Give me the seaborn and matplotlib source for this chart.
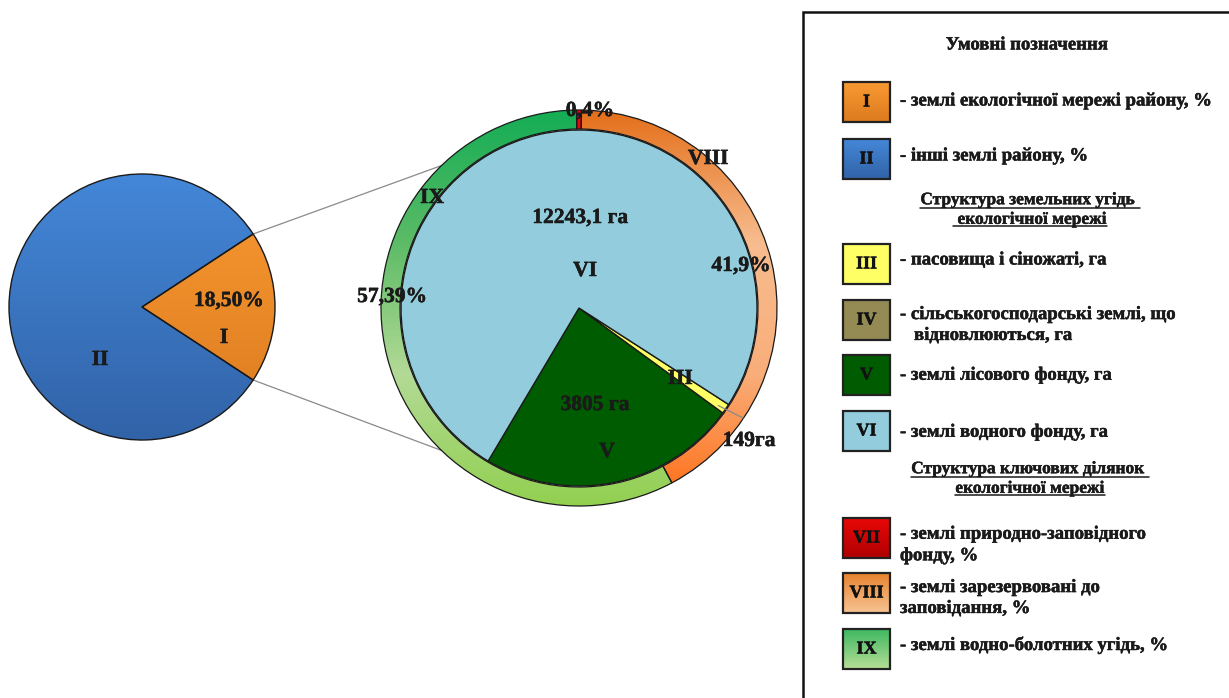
import numpy as np
import matplotlib
matplotlib.use("Agg")
import matplotlib.pyplot as plt
import matplotlib.patheffects as pe
import seaborn as sns
from matplotlib.patches import Rectangle
from matplotlib.colors import LinearSegmentedColormap

# ---------------- data ----------------
district_labels = ["I", "II"]
district_share = [18.50, 81.50]          # %
land_labels = ["V", "III", "VI"]
land_area = [3805, 149, 12243.1]          # ha
key_labels = ["VII", "VIII", "IX"]
key_share = [0.4, 41.9, 57.39]            # %

legend_items = [
    ("I", "- землі екологічної мережі району, %"),
    ("II", "- інші землі району, %"),
    ("III", "- пасовища і сіножаті, га"),
    ("IV", "- сільськогосподарські землі, що\n   відновлюються, га"),
    ("V", "- землі лісового фонду, га"),
    ("VI", "- землі водного фонду, га"),
    ("VII", "- землі природно-заповідного\nфонду, %"),
    ("VIII", "- землі зарезервовані до\nзаповідання, %"),
    ("IX", "- землі водно-болотних угідь, %"),
]
legend_title = "Умовні позначення"
header_land = "Структура земельних угідь \n екологічної мережі"
header_key = "Структура ключових ділянок \nекологічної мережі"

# ---------------- style ----------------
sns.set_theme(style="white")
plt.rcParams['font.family'] = ['Liberation Serif', 'DejaVu Serif']
plt.rcParams['font.weight'] = 'bold'

grad = {
    "I": ["#F89A33", "#DC7A1E"],
    "II": ["#4487D8", "#3163A8"],
    "III": ["#FFFF66", "#FFFF66"],
    "IV": ["#948A54", "#948A54"],
    "V": ["#005C00", "#005C00"],
    "VI": ["#93CDDD", "#93CDDD"],
    "VII": ["#E80808", "#B00000"],
    "VIII": ["#E46F1A", "#F7BC8E", "#F9AE7A", "#FF6A10"],
    "IX": ["#14AD55", "#5CBB66", "#B3DA96", "#92D050"],
}
legend_grad = {
    "VIII": ["#E8832F", "#F7C493"],
    "IX": ["#3DB861", "#B7DE97"],
}
text_color = "#1a1a1a"
stroke = [pe.withStroke(linewidth=0.35, foreground=text_color)]

W, H = 1229, 698
fig = plt.figure(figsize=(W / 100, H / 100), dpi=100)
fig.patch.set_facecolor("white")
ax = fig.add_axes([0, 0, 1, 1])


def Y(y):
    return H - y


def gradient_fill(patch, colors, extent, zorder):
    cmap = LinearSegmentedColormap.from_list("g", colors)
    img = np.linspace(0, 1, 256).reshape(-1, 1)
    im = ax.imshow(img, cmap=cmap, extent=extent, origin="upper",
                   aspect="auto", zorder=zorder, interpolation="bilinear")
    im.set_clip_path(patch)
    patch.set_facecolor("none")
    patch.set_zorder(zorder + 0.5)


# ---------------- left pie ----------------
cL = (142, Y(307))
rL = 133
half_I = district_share[0] / 100 * 180
wedgesL, _ = ax.pie(district_share, radius=rL, center=cL, startangle=-half_I,
                    colors=[grad["I"][0], grad["II"][0]],
                    wedgeprops=dict(edgecolor="#1a1a1a", linewidth=1.0))
for w, lab in zip(wedgesL, district_labels):
    gradient_fill(w, grad[lab], (cL[0] - rL, cL[0] + rL, cL[1] - rL, cL[1] + rL), 2)

# ---------------- right pie ----------------
cR = (579, Y(308))
rOut = 198
ringW = 19
rIn = 178
wedgesIn, _ = ax.pie(land_area, radius=rIn, center=cR, startangle=239.3,
                     colors=[grad[l][0] for l in land_labels],
                     wedgeprops=dict(edgecolor="#1a1a1a", linewidth=1.0))
for w in wedgesIn:
    w.set_zorder(3)

tot = sum(key_share)
start_ring = 90 + key_share[0] / tot * 180
wedgesOut, _ = ax.pie(key_share, radius=rOut, center=cR, startangle=start_ring,
                      counterclock=False,
                      colors=[grad[l][0] for l in key_labels],
                      wedgeprops=dict(width=ringW, edgecolor="#1a1a1a", linewidth=0.9))
for w, lab in zip(wedgesOut, key_labels):
    gradient_fill(w, grad[lab], (cR[0] - rOut, cR[0] + rOut, cR[1] - rOut, cR[1] + rOut), 3)

# ---------------- connector lines ----------------
for sgn in (1, -1):
    a1 = np.deg2rad(sgn * half_I)
    a2 = np.deg2rad(sgn * 134)
    p1 = (cL[0] + rL * np.cos(a1), cL[1] + rL * np.sin(a1))
    p2 = (cR[0] + rOut * np.cos(a2), cR[1] + rOut * np.sin(a2))
    ax.plot([p1[0], p2[0]], [p1[1], p2[1]], color="#8a8a8a", lw=0.9, zorder=1)

# leader for III
a3 = np.deg2rad(-35)
ax.plot([cR[0] + 170 * np.cos(a3), 743], [cR[1] + 170 * np.sin(a3), Y(418)],
        color="#8a8a8a", lw=0.9, zorder=5)

# ---------------- pie labels ----------------
fs = 15.5
tk = dict(fontsize=fs, fontweight="bold", color=text_color, ha="center",
          va="center", zorder=10, path_effects=stroke)
ax.text(229, Y(301), f"{district_share[0]:.2f}%".replace(".", ","), **tk)
ax.text(224, Y(338), district_labels[0], **tk)
ax.text(100, Y(360), district_labels[1], **tk)

ax.text(590, Y(111), f"{key_share[0]}%".replace(".", ","), **tk)
ax.text(708, Y(159), key_labels[1], **tk)
ax.text(432, Y(198), key_labels[2], **tk)
ax.text(392, Y(297), f"{key_share[2]}%".replace(".", ","), **tk)
ax.text(741, Y(266), f"{key_share[1]}%".replace(".", ","), **tk)

ax.text(580, Y(218), f"{land_area[2]} га".replace(".", ","), **tk)
ax.text(585, Y(271), land_labels[2], **tk)
ax.text(595, Y(405), f"{land_area[0]} га", **tk)
ax.text(607, Y(452), land_labels[0], **tk)
ax.text(680, Y(379), land_labels[1], **tk)
ax.text(749, Y(441), f"{land_area[1]}га", **tk)

# ---------------- legend box ----------------
ax.add_patch(Rectangle((803, Y(760)), 500, 760 - 12, facecolor="white",
                       edgecolor="#111111", linewidth=1.8, zorder=1))
lfs = 13.5
ax.text(1027, Y(45), legend_title, fontsize=lfs, fontweight="bold",
        color=text_color, ha="center", va="center", zorder=10, path_effects=stroke)

box_y = {"I": 82, "II": 139, "III": 244, "IV": 300, "V": 355, "VI": 411,
         "VII": 518, "VIII": 573, "IX": 629}
text_y = {"I": 101, "II": 156, "III": 260, "IV": 325, "V": 375, "VI": 432,
          "VII": 545, "VIII": 598, "IX": 645}
for lab, desc in legend_items:
    y0 = box_y[lab]
    rect = Rectangle((843, Y(y0 + 40)), 47, 40, facecolor=grad[lab][0],
                     edgecolor="#222222", linewidth=1.6, zorder=4)
    ax.add_patch(rect)
    cols = legend_grad.get(lab, grad[lab][:2])
    gradient_fill(rect, cols, (843, 890, Y(y0 + 40), Y(y0)), 3)
    ax.text(866.5, Y(y0 + 20), lab, fontsize=13, fontweight="bold", color="#111111",
            ha="center", va="center", zorder=10, path_effects=stroke)
    ax.text(900, Y(text_y[lab]), desc, fontsize=lfs, fontweight="bold",
            color=text_color, ha="left", va="center", linespacing=1.3, zorder=10,
            path_effects=stroke)

# underlined headers
hfs = 12.5
hdrs = []
for hdr, yc in ((header_land, 210), (header_key, 479)):
    t = ax.text(1030, Y(yc), hdr, fontsize=hfs, fontweight="bold", color=text_color,
                ha="center", va="center", linespacing=1.3, zorder=10, path_effects=stroke)
    hdrs.append(t)

ax.set_xlim(0, W)
ax.set_ylim(0, H)
ax.set_aspect("equal")
ax.axis("off")

fig.canvas.draw()
renderer = fig.canvas.get_renderer()
inv = ax.transData.inverted()
for t in hdrs:
    bb = t.get_window_extent(renderer)
    (x0, y0), (x1, y1) = inv.transform([(bb.x0, bb.y0), (bb.x1, bb.y1)])
    lines = t.get_text().split("\n")
    n = len(lines)
    lh = (y1 - y0) / n
    for i, ln in enumerate(lines):
        tt = ax.text(0, 0, ln, fontsize=hfs, fontweight="bold")
        wb = tt.get_window_extent(renderer)
        tt.remove()
        wpx = wb.width
        xc = (x0 + x1) / 2
        yb = y1 - (i + 1) * lh + lh * 0.1
        ax.plot([xc - wpx / 2, xc + wpx / 2], [yb, yb], color=text_color, lw=1.1, zorder=10)

fig.savefig("out.png", dpi=100, facecolor="white")
